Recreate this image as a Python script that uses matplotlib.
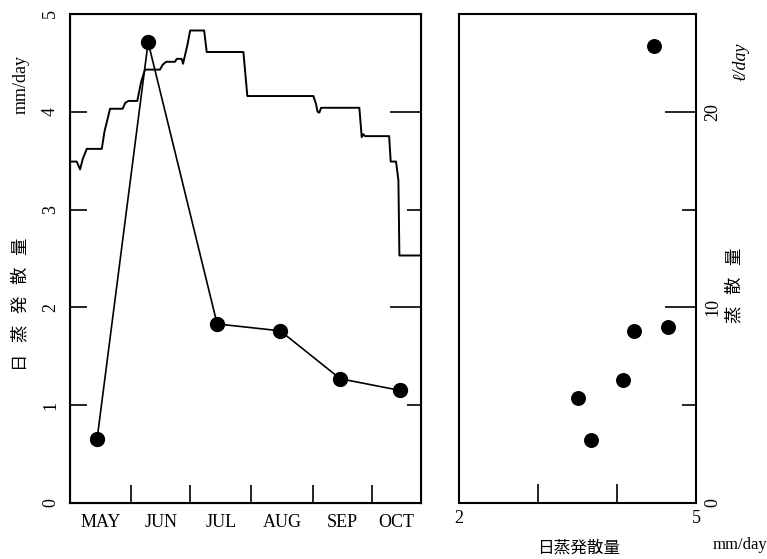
import numpy as np
import matplotlib.pyplot as plt

plt.rcParams['font.family'] = ['Liberation Serif', 'DejaVu Serif']
jp = ['Noto Sans CJK JP', 'DejaVu Sans']

# day counted from May 1
month_names = ['MAY', 'JUN', 'JUL', 'AUG', 'SEP', 'OCT']
month_starts = [0, 31, 61, 92, 123, 153]
x_end = 178

# daily evapotranspiration (step line)
step_day = [0, 3.4, 5.1, 6.5, 8.5, 16.1, 17.5, 20.3, 26.7, 28, 29.6, 34.1, 36, 38.0,
            45.6, 47, 48.7, 53.2, 54.1, 56.6, 57.3, 59.5, 60.9, 68.0, 69.3, 87.9,
            89.9, 123.4, 124.7, 125.5, 126.4, 127.3, 128.4, 146.7, 147.9, 148.7,
            149.6, 161.8, 162.6, 165.3, 166.5, 167.0, 178]
step_val = [3.49, 3.49, 3.41, 3.52, 3.62, 3.62, 3.80, 4.03, 4.03, 4.09, 4.11, 4.11, 4.30, 4.43,
            4.43, 4.48, 4.51, 4.51, 4.54, 4.54, 4.49, 4.68, 4.83, 4.83, 4.61, 4.61,
            4.16, 4.16, 4.08, 4.00, 3.99, 4.04, 4.04, 4.04, 3.74, 3.77,
            3.75, 3.75, 3.49, 3.49, 3.30, 2.53, 2.53]

# monthly points
pt_day = [13.7, 39.6, 74.6, 106.6, 137.0, 167.5]
pt_val = [0.65, 4.71, 1.83, 1.76, 1.27, 1.15]

# right panel scatter
sc_x = [4.47, 4.64, 4.21, 4.08, 3.51, 3.67]
sc_y = [23.35, 9.0, 8.77, 6.31, 5.38, 3.21]

fig = plt.figure(figsize=(7.67, 5.59), dpi=100)

# ---- left panel
ax = fig.add_axes([0.0913, 0.1002, 0.4577, 0.875])
ax.plot(step_day, step_val, color='black', lw=1.4)
ax.plot(pt_day, pt_val, color='black', lw=1.2, marker='o', ms=10)
ax.set_xlim(0, x_end)
ax.set_ylim(0, 5)

ax.set_xticks(month_starts[1:])
ax.set_xticks([(a + b) / 2 for a, b in zip(month_starts, month_starts[1:] + [x_end])], minor=True)
ax.set_xticklabels([])
ax.set_xticklabels(month_names, minor=True, fontsize=13)
ax.tick_params(axis='x', which='major', direction='in', length=13, width=1.2, top=False)
ax.tick_params(axis='x', which='minor', length=0, pad=8)

ax.set_yticks([0, 1, 2, 3, 4, 5])
ax.set_yticklabels(['0', '1', '2', '3', '4', '5'], rotation=90, va='center', fontsize=13)
ax.tick_params(axis='y', direction='in', length=12, width=1.2, pad=8)

# right side ticks of left panel (long at 2,4 / short at 1,3)
axr = ax.twinx()
axr.set_ylim(0, 5)
axr.set_yticks([2, 4])
axr.set_yticks([1, 3], minor=True)
axr.set_yticklabels([])
axr.tick_params(axis='y', which='major', direction='in', length=22, width=1.2)
axr.tick_params(axis='y', which='minor', direction='in', length=10, width=1.2)

for s in ax.spines.values():
    s.set_linewidth(1.5)

fig.text(0.027, 0.848, 'mm/day', rotation=90, ha='center', va='center', fontsize=13)
fig.text(0.027, 0.455, '日   蒸   発   散   量', rotation=90, ha='center',
         va='center', fontsize=12.5, family=jp)

# ---- right panel
bx = fig.add_axes([0.5984, 0.1002, 0.309, 0.875])
bx.scatter(sc_x, sc_y, s=95, color='black', zorder=3)
bx.set_xlim(2, 5)
bx.set_ylim(0, 25)

bx.set_xticks([2, 3, 4, 5])
bx.set_xticklabels(['2', '', '', '5'], fontsize=13)
bx.tick_params(axis='x', direction='in', length=14, width=1.2, top=False, pad=5)

bx.yaxis.tick_right()
bx.set_yticks([0, 10, 20])
bx.set_yticks([5, 15], minor=True)
bx.set_yticklabels(['0', '10', '20'], rotation=90, va='center', fontsize=13)
bx.tick_params(axis='y', which='major', direction='in', length=22, width=1.2, pad=6,
               left=False, right=True)
bx.tick_params(axis='y', which='minor', direction='in', length=10, width=1.2,
               left=False, right=True)
for s in bx.spines.values():
    s.set_linewidth(1.5)

fig.text(0.754, 0.02, '日蒸発散量', ha='center', va='center', fontsize=12, family=jp)
fig.text(0.965, 0.025, 'mm/day', ha='center', va='center', fontsize=12)
fig.text(0.966, 0.89, 'ℓ/day', rotation=90, ha='center', va='center', fontsize=13,
         style='italic')
fig.text(0.958, 0.49, '蒸   散   量', rotation=90, ha='center', va='center',
         fontsize=12.5, family=jp)

fig.savefig('out.png', dpi=100)
